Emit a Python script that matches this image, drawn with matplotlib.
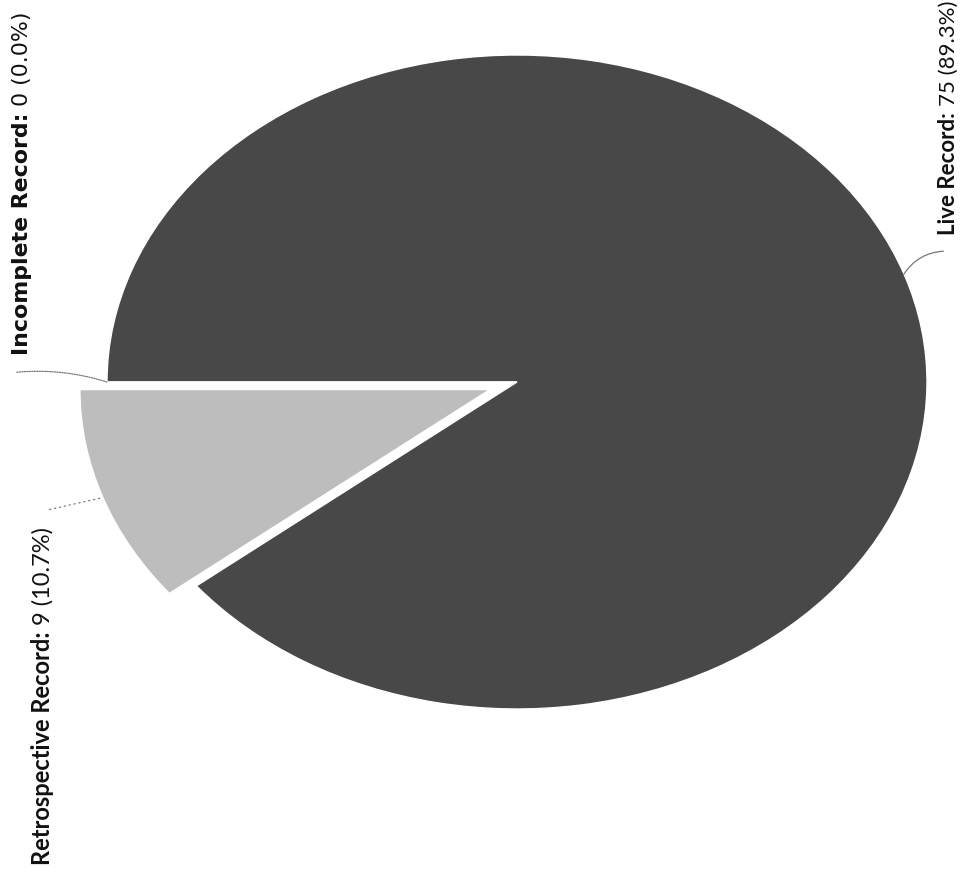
import numpy as np
import matplotlib
matplotlib.use('Agg')
import matplotlib.pyplot as plt

# data (order follows the drawing direction of the pie)
names = ['Retrospective Record', 'Live Record', 'Incomplete Record']
counts = [9, 75, 0]
colors = ['#bdbdbd', '#484848', '#484848']
explode = [0.07, 0, 0]

total = sum(counts)
pcts = [100.0 * c / total for c in counts]

plt.rcParams['font.family'] = ['Lato', 'DejaVu Sans']

fig = plt.figure(figsize=(9.71, 8.77), dpi=100)
ax = fig.add_axes([107 / 971, (877 - 709) / 877, 820 / 971, 654 / 877])

wedges, _ = ax.pie(counts, colors=colors, explode=explode, startangle=180,
                   counterclock=True, radius=1.0,
                   wedgeprops=dict(edgecolor='white', linewidth=1.0))
ax.set_aspect('auto')
ax.set_xlim(-1, 1)
ax.set_ylim(-1, 1)
ax.axis('off')

# label placement (data coords): leader end and text anchor
leader_end = [(-1.14, -0.39), (1.04, 0.40), (-1.22, 0.03)]
text_anchor = [(-1.139, -1.477), (1.068, 0.450), (-1.193, 0.083)]
leader_rad = [0.0, 0.25, -0.1]
leader_ls = [(0, (1, 3)), '-', (0, (1, 1))]
label_font = [['Lato'], ['Lato'], ['DejaVu Sans']]
label_size = [17, 16, 15.8]

for i, w in enumerate(wedges):
    mid = np.deg2rad((w.theta1 + w.theta2) / 2)
    off = explode[i]
    edge = ((1 + off) * np.cos(mid), (1 + off) * np.sin(mid))
    ax.annotate('', xy=edge, xytext=leader_end[i], annotation_clip=False,
                arrowprops=dict(arrowstyle='-', color='#777777', lw=0.9,
                                linestyle=leader_ls[i],
                                connectionstyle=f'arc3,rad={leader_rad[i]}',
                                shrinkA=0, shrinkB=0))

fig.canvas.draw()
renderer = fig.canvas.get_renderer()
to_fig = fig.transFigure.inverted()
for i in range(len(names)):
    x, y = text_anchor[i]
    t = ax.text(x, y, names[i] + ':', rotation=90, rotation_mode='anchor',
                ha='left', va='baseline', fontsize=label_size[i],
                fontweight='bold', family=label_font[i], color='#111111')
    bb = t.get_window_extent(renderer)
    xd, _ = ax.transData.transform((x, y))
    fx, fy = to_fig.transform((xd, bb.y1 + 6))
    fig.text(fx, fy, f'{counts[i]} ({pcts[i]:.1f}%)', rotation=90,
             rotation_mode='anchor', ha='left', va='baseline',
             fontsize=label_size[i], family=label_font[i], color='#111111')

fig.savefig('out.png', dpi=100, facecolor='white')
